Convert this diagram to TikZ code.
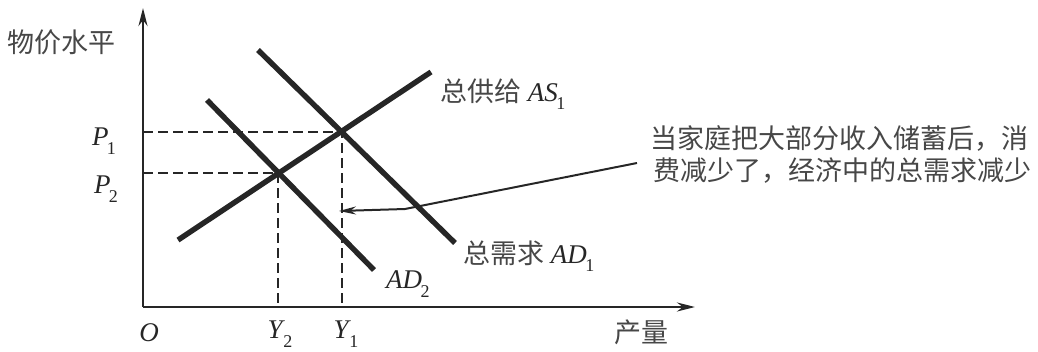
\documentclass[tikz,border=0pt]{standalone}
\usepackage{fontspec}
\setmainfont{Liberation Serif}
\newfontfamily\cjk{Noto Sans CJK SC}
\usetikzlibrary{arrows.meta}
\definecolor{ink}{HTML}{262626}
\newcommand\sublbl[2]{\textit{#1}\kern-1.5pt\raisebox{-0.32em}{\fontsize{18}{18}\selectfont #2}}
\newcommand\cjkin[1]{{\cjk\fontsize{27}{32}\selectfont\color{ink!85}#1}}
\tikzset{
  curve/.style={line width=5.4pt, draw=ink},
  axis/.style={line width=2.6pt, draw=ink, -{Stealth[length=18pt,width=9pt]}},
  guide/.style={line width=2.4pt, draw=ink, dash pattern=on 10pt off 5pt},
  pointer/.style={line width=2pt, draw=ink, -{Stealth[length=17pt,width=8pt]}},
  lbl/.style={font=\fontsize{27}{32}\selectfont, text=ink, inner sep=0pt},
  cjklbl/.style={font=\cjk\fontsize{27}{32}\selectfont, text=ink!85, inner sep=0pt},
}
\begin{document}
\begin{tikzpicture}[x=1pt,y=-1pt]
\useasboundingbox (0,0) rectangle (1038,351);
% axes
\coordinate (O) at (143,307);
\coordinate (ytop) at (143,8);
\coordinate (xend) at (695,307);
\draw[axis] (O) -- (ytop);
\draw[axis] (O) -- (xend);
% equilibrium points
\coordinate (E1) at (342,132);
\coordinate (E2) at (278,173);
\coordinate (P1a) at (143,132);
\coordinate (P2a) at (143,173);
\coordinate (Y1a) at (342,307);
\coordinate (Y2a) at (278,307);
% dashed guides
\draw[guide] (P1a) -- (E1) -- (Y1a);
\draw[guide] (P2a) -- (E2) -- (Y2a);
% curves
\coordinate (AS0) at (178,240);
\coordinate (AS1) at (431,72);
\coordinate (AD1s) at (258,50);
\coordinate (AD1e) at (455,243);
\coordinate (AD2s) at (207,100);
\coordinate (AD2e) at (374,270);
\draw[curve] (AS0) -- (AS1);
\draw[curve] (AD1s) -- (AD1e);
\draw[curve] (AD2s) -- (AD2e);
% labels
\node[cjklbl, anchor=west] (ylab) at (7,42) {物价水平};
\node[cjklbl] (xlab) at (641,332) {产量};
\node[lbl] (p1) at (104,141) {\sublbl{P}{1}};
\node[lbl] (p2) at (106,189) {\sublbl{P}{2}};
\node[lbl] (o) at (149,333) {\textit{O}};
\node[lbl] (y2) at (280,334) {\sublbl{Y}{2}};
\node[lbl] (y1) at (346,334) {\sublbl{Y}{1}};
\node[lbl, anchor=west] (as) at (440,94) {\cjkin{总供给} \sublbl{AS}{1}};
\node[lbl, anchor=west] (ad1) at (463,256) {\cjkin{总需求} \sublbl{AD}{1}};
\node[lbl, anchor=west] (ad2) at (386,284) {\sublbl{AD}{2}};
\node[cjklbl, anchor=west, align=left] (note) at (650,154) {当家庭把大部分收入储蓄后，消\\\hspace{3pt}费减少了，经济中的总需求减少};
% pointer
\coordinate (ps) at (637,163);
\coordinate (pb) at (405,209);
\coordinate (pe) at (339,211);
\draw[pointer] (ps) -- (pb) -- (pe);
\end{tikzpicture}
\end{document}
